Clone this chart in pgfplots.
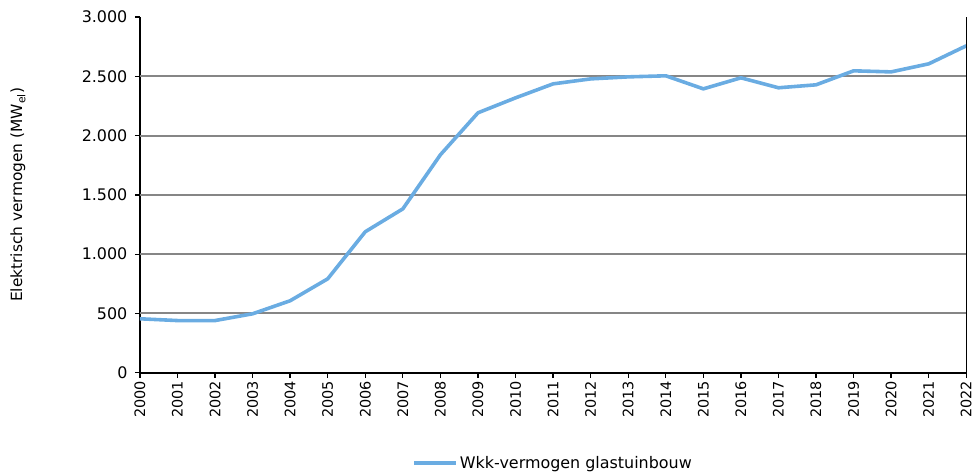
\documentclass[border=0pt]{standalone}
\usepackage{pgfplots}
\pgfplotsset{compat=1.18}
\usepackage{fontspec}
\setmainfont{DejaVu Sans}
\definecolor{linblue}{RGB}{106,172,226}
\definecolor{gridgray}{RGB}{134,134,134}
\begin{document}
\begin{tikzpicture}
\begin{axis}[
  scale only axis,
  width=827bp, height=356bp,
  xmin=2000, xmax=2022,
  ymin=0, ymax=3000,
  axis x line*=bottom,
  axis y line*=left,
  axis line style={black, line width=1.6bp},
  xtick={2000,...,2022},
  ytick={0,500,...,3000},
  extra y ticks={500,1000,1500,2000,2500},
  extra y tick labels={},
  extra y tick style={grid=major, major grid style={gridgray, line width=2bp}, tick style={draw=none}},
  tick style={black, line width=1.3bp},
  tick align=outside,
  major tick length=5bp,
  /pgf/number format/assume math mode=true,
  x tick label style={rotate=90, anchor=east, font=\fontsize{14.5}{16}\selectfont, /pgf/number format/set thousands separator={}},
  y tick label style={font=\fontsize{16}{18}\selectfont, /pgf/number format/1000 sep={.}},
  yticklabel style={xshift=-4bp},
  ylabel={Elektrisch vermogen (MW\textsubscript{el})},
  ylabel style={at={(axis description cs:-0.1475,0.5)}, anchor=center, font=\fontsize{15.5}{17}\selectfont},
  legend style={draw=none, at={(axis description cs:0.5,-0.253)}, anchor=center, font=\fontsize{16}{18}\selectfont, inner sep=0pt},
  legend image code/.code={\draw[#1] (0bp,0bp) -- (42bp,0bp);},
  clip=false,
]
\addplot[linblue, line width=3.6bp, line join=round] coordinates {
(2000,455) (2001,440) (2002,440) (2003,497) (2004,607) (2005,792)
(2006,1189) (2007,1382) (2008,1838) (2009,2192) (2010,2318) (2011,2436)
(2012,2478) (2013,2495) (2014,2504) (2015,2394) (2016,2487) (2017,2403)
(2018,2428) (2019,2546) (2020,2537) (2021,2605) (2022,2757)
};
\addlegendentry{Wkk-vermogen glastuinbouw}
\draw[black, line width=1.6bp] (rel axis cs:1,0) -- (rel axis cs:1,1);
\end{axis}
\path[use as bounding box] (-140bp,-102bp) rectangle (835bp,373bp);
\end{tikzpicture}
\end{document}
